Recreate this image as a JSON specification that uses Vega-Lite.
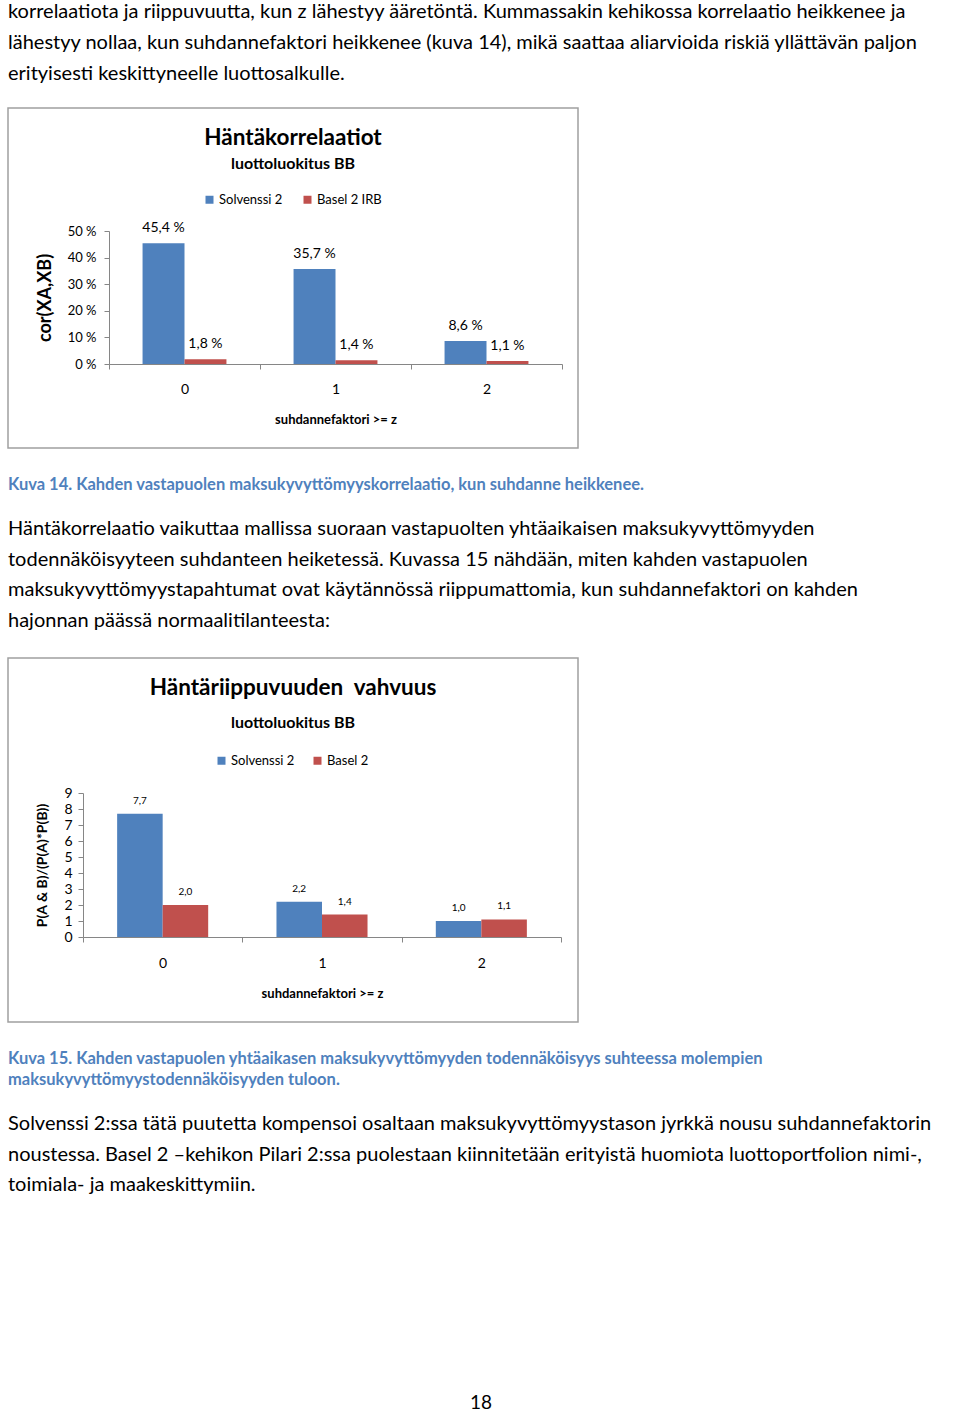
{
  "$schema": "https://vega.github.io/schema/vega-lite/v6.json",
  "background": "white",
  "padding": {"left": 7, "top": 0, "right": 0, "bottom": 0},
  "bounds": "flush",
  "spacing": 0,
  "config": {
    "font": "Lato",
    "view": {"stroke": null},
    "locale": {"number": {"decimal": ",", "thousands": "\u00a0", "grouping": [3], "currency": ["", "\u00a0€"], "percent": "\u00a0%"}},
    "axis": {"domainColor": "#868686", "tickColor": "#868686", "labelColor": "black", "titleColor": "black", "grid": false},
    "legend": {"labelColor": "black"}
  },
  "resolve": {"scale": {"x": "independent", "y": "independent", "xOffset": "independent", "color": "independent"}, "legend": {"color": "independent"}, "axis": {"x": "independent", "y": "independent"}},
  "vconcat": [
    {
      "width": 946, "height": 108,
      "data": {"values": [
        {"i": 0, "t": "korrelaatiota ja riippuvuutta, kun z lähestyy ääretöntä. Kummassakin kehikossa korrelaatio heikkenee ja"},
        {"i": 1, "t": "lähestyy nollaa, kun suhdannefaktori heikkenee (kuva 14), mikä saattaa aliarvioida riskiä yllättävän paljon"},
        {"i": 2, "t": "erityisesti keskittyneelle luottosalkulle."}
      ]},
      "mark": {"type": "text", "align": "left", "baseline": "middle", "fontSize": 20, "color": "black"},
      "encoding": {
        "x": {"datum": 0, "type": "quantitative", "scale": {"domain": [0, 1], "nice": false}, "axis": null},
        "y": {"field": "i", "type": "quantitative", "scale": {"domain": [-0.4098, 3.1311], "reverse": true, "nice": false, "zero": false}, "axis": null},
        "text": {"field": "t"}
      }
    },
    {
      "width": 570, "height": 340,
      "view": {"stroke": "#a0a0a0", "strokeWidth": 1.5},
      "title": {"text": "Häntäkorrelaatiot", "subtitle": "luottoluokitus BB", "fontSize": 22.5, "fontWeight": "bold", "color": "black", "subtitleFontSize": 16, "subtitleFontWeight": "bold", "subtitleColor": "black", "subtitlePadding": 7, "anchor": "middle", "frame": "group", "offset": -64},
      "data": {"values": [
        {"z": "0", "series": "Solvenssi 2", "v": 0.454},
        {"z": "1", "series": "Solvenssi 2", "v": 0.357},
        {"z": "2", "series": "Solvenssi 2", "v": 0.086},
        {"z": "0", "series": "Basel 2 IRB", "v": 0.018},
        {"z": "1", "series": "Basel 2 IRB", "v": 0.014},
        {"z": "2", "series": "Basel 2 IRB", "v": 0.011}
      ]},
      "encoding": {
        "x": {"field": "z", "type": "nominal", "scale": {"range": [101, 554], "paddingInner": 0, "paddingOuter": 0},
              "axis": {"orient": "bottom", "offset": -84, "labelAngle": 0, "tickBand": "extent", "tickSize": 5, "labelFontSize": 14, "labelPadding": 13, "title": "suhdannefaktori >= z", "titleFontSize": 13, "titleFontWeight": "bold", "titlePadding": 17}},
        "xOffset": {"field": "series", "type": "nominal", "scale": {"domain": ["Solvenssi 2", "Basel 2 IRB"], "paddingOuter": 0.8, "paddingInner": 0}},
        "y": {"field": "v", "type": "quantitative", "scale": {"domain": [0, 0.5], "range": [256, 123], "nice": false},
              "axis": {"orient": "left", "offset": -101, "values": [0, 0.1, 0.2, 0.3, 0.4, 0.5], "format": ".0%", "tickSize": 5, "labelFontSize": 13, "labelPadding": 8, "title": "cor(XA,XB)", "titleFontSize": 18, "titleFontWeight": "bold", "titlePadding": 13}}
      },
      "layer": [
        {
          "mark": {"type": "bar"},
          "encoding": {
            "color": {"field": "series", "type": "nominal", "scale": {"domain": ["Solvenssi 2", "Basel 2 IRB"], "range": ["#4F81BD", "#C0504D"]},
                      "legend": {"title": null, "orient": "none", "legendX": 195, "legendY": 85, "direction": "horizontal", "symbolType": "square", "symbolSize": 64, "symbolStrokeWidth": 0, "labelFontSize": 13, "labelOffset": 3, "columnPadding": 18, "padding": 0}}
          }
        },
        {
          "mark": {"type": "text", "baseline": "bottom", "dy": -8, "fontSize": 14, "color": "black"},
          "encoding": {"text": {"field": "v", "type": "quantitative", "format": ".1%"}}
        }
      ]
    },
    {
      "width": 946, "height": 57,
      "data": {"values": [{"i": 0, "t": "Kuva 14. Kahden vastapuolen maksukyvyttömyyskorrelaatio, kun suhdanne heikkenee."}]},
      "mark": {"type": "text", "align": "left", "baseline": "middle", "fontSize": 16.5, "fontWeight": "bold", "color": "#4F81BD"},
      "encoding": {
        "x": {"datum": 0, "type": "quantitative", "scale": {"domain": [0, 1], "nice": false}, "axis": null},
        "y": {"field": "i", "type": "quantitative", "scale": {"domain": [-1.2333, 0.6667], "reverse": true, "nice": false, "zero": false}, "axis": null},
        "text": {"field": "t"}
      }
    },
    {
      "width": 946, "height": 153,
      "data": {"values": [
        {"i": 0, "t": "Häntäkorrelaatio vaikuttaa mallissa suoraan vastapuolten yhtäaikaisen maksukyvyttömyyden"},
        {"i": 1, "t": "todennäköisyyteen suhdanteen heiketessä. Kuvassa 15 nähdään, miten kahden vastapuolen"},
        {"i": 2, "t": "maksukyvyttömyystapahtumat ovat käytännössä riippumattomia, kun suhdannefaktori on kahden"},
        {"i": 3, "t": "hajonnan päässä normaalitilanteesta:"}
      ]},
      "mark": {"type": "text", "align": "left", "baseline": "middle", "fontSize": 20, "color": "black"},
      "encoding": {
        "x": {"datum": 0, "type": "quantitative", "scale": {"domain": [0, 1], "nice": false}, "axis": null},
        "y": {"field": "i", "type": "quantitative", "scale": {"domain": [-0.7869, 4.2295], "reverse": true, "nice": false, "zero": false}, "axis": null},
        "text": {"field": "t"}
      }
    },
    {
      "width": 570, "height": 364,
      "view": {"stroke": "#a0a0a0", "strokeWidth": 1.5},
      "title": {"text": "Häntäriippuvuuden\u00a0 vahvuus", "subtitle": "luottoluokitus BB", "fontSize": 22.5, "fontWeight": "bold", "color": "black", "subtitleFontSize": 16, "subtitleFontWeight": "bold", "subtitleColor": "black", "subtitlePadding": 16, "anchor": "middle", "frame": "group", "offset": -73},
      "data": {"values": [
        {"z": "0", "series": "Solvenssi 2", "v": 7.7},
        {"z": "1", "series": "Solvenssi 2", "v": 2.2},
        {"z": "2", "series": "Solvenssi 2", "v": 1.0},
        {"z": "0", "series": "Basel 2", "v": 2.0},
        {"z": "1", "series": "Basel 2", "v": 1.4},
        {"z": "2", "series": "Basel 2", "v": 1.1}
      ]},
      "encoding": {
        "x": {"field": "z", "type": "nominal", "scale": {"range": [75, 553], "paddingInner": 0, "paddingOuter": 0},
              "axis": {"orient": "bottom", "offset": -85, "labelAngle": 0, "tickBand": "extent", "tickSize": 5, "labelFontSize": 14, "labelPadding": 14, "title": "suhdannefaktori >= z", "titleFontSize": 13, "titleFontWeight": "bold", "titlePadding": 17}},
        "xOffset": {"field": "series", "type": "nominal", "scale": {"domain": ["Solvenssi 2", "Basel 2"], "paddingOuter": 0.75, "paddingInner": 0}},
        "y": {"field": "v", "type": "quantitative", "scale": {"domain": [0, 9], "range": [279, 135], "nice": false},
              "axis": {"orient": "left", "offset": -75, "values": [0, 1, 2, 3, 4, 5, 6, 7, 8, 9], "format": "d", "tickSize": 5, "labelFontSize": 14, "labelPadding": 6, "title": "P(A & B)/(P(A)*P(B))", "titleFontSize": 14, "titleFontWeight": "bold", "titlePadding": 14}}
      },
      "layer": [
        {
          "mark": {"type": "bar"},
          "encoding": {
            "color": {"field": "series", "type": "nominal", "scale": {"domain": ["Solvenssi 2", "Basel 2"], "range": ["#4F81BD", "#C0504D"]},
                      "legend": {"title": null, "orient": "none", "legendX": 207, "legendY": 96, "direction": "horizontal", "symbolType": "square", "symbolSize": 64, "symbolStrokeWidth": 0, "labelFontSize": 13, "labelOffset": 3, "columnPadding": 16, "padding": 0}}
          }
        },
        {
          "mark": {"type": "text", "baseline": "bottom", "dy": -8, "fontSize": 10, "color": "black"},
          "encoding": {"text": {"field": "v", "type": "quantitative", "format": ".1f"}}
        }
      ]
    },
    {
      "width": 946, "height": 78,
      "data": {"values": [
        {"i": 0, "t": "Kuva 15. Kahden vastapuolen yhtäaikasen maksukyvyttömyyden todennäköisyys suhteessa molempien"},
        {"i": 1, "t": "maksukyvyttömyystodennäköisyyden tuloon."}
      ]},
      "mark": {"type": "text", "align": "left", "baseline": "middle", "fontSize": 16.5, "fontWeight": "bold", "color": "#4F81BD"},
      "encoding": {
        "x": {"datum": 0, "type": "quantitative", "scale": {"domain": [0, 1], "nice": false}, "axis": null},
        "y": {"field": "i", "type": "quantitative", "scale": {"domain": [-1.7619, 1.9524], "reverse": true, "nice": false, "zero": false}, "axis": null},
        "text": {"field": "t"}
      }
    },
    {
      "width": 946, "height": 200,
      "data": {"values": [
        {"i": 0, "t": "Solvenssi 2:ssa tätä puutetta kompensoi osaltaan maksukyvyttömyystason jyrkkä nousu suhdannefaktorin"},
        {"i": 1, "t": "noustessa. Basel 2 –kehikon Pilari 2:ssa puolestaan kiinnitetään erityistä huomiota luottoportfolion nimi-,"},
        {"i": 2, "t": "toimiala- ja maakeskittymiin."}
      ]},
      "mark": {"type": "text", "align": "left", "baseline": "middle", "fontSize": 20, "color": "black"},
      "encoding": {
        "x": {"datum": 0, "type": "quantitative", "scale": {"domain": [0, 1], "nice": false}, "axis": null},
        "y": {"field": "i", "type": "quantitative", "scale": {"domain": [-0.7869, 5.7705], "reverse": true, "nice": false, "zero": false}, "axis": null},
        "text": {"field": "t"}
      }
    },
    {
      "width": 946, "height": 112,
      "data": {"values": [{"i": 0, "t": "18"}]},
      "mark": {"type": "text", "align": "center", "baseline": "middle", "fontSize": 19, "color": "black"},
      "encoding": {
        "x": {"datum": 0.5, "type": "quantitative", "scale": {"domain": [0, 1], "nice": false}, "axis": null},
        "y": {"field": "i", "type": "quantitative", "scale": {"domain": [-3.4333, 0.3], "reverse": true, "nice": false, "zero": false}, "axis": null},
        "text": {"field": "t"}
      }
    }
  ]
}
